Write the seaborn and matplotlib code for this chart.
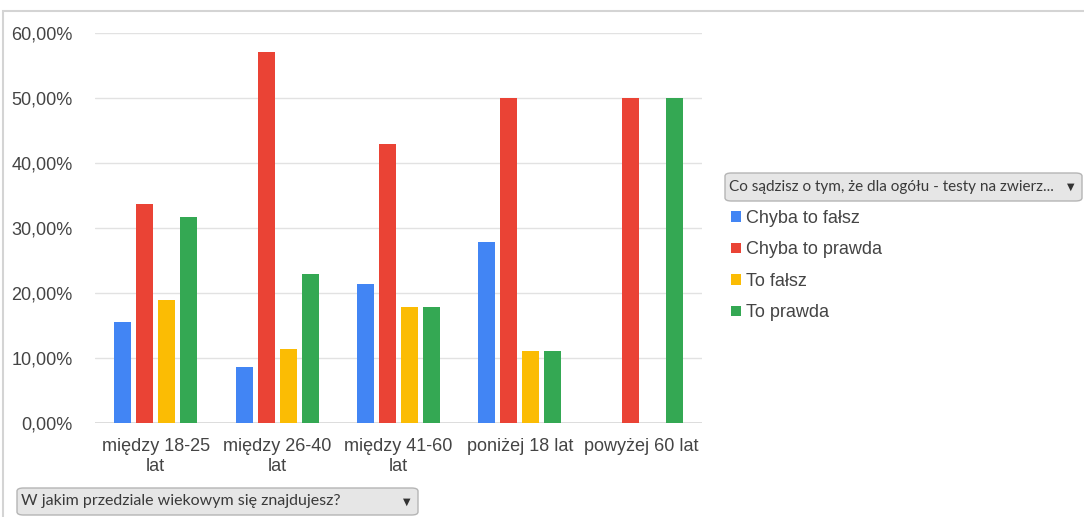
import seaborn as sns
import pandas as pd
import numpy as np
import matplotlib.pyplot as plt
from matplotlib.patches import FancyBboxPatch, Rectangle
from matplotlib.ticker import FuncFormatter

# przedzialy wiekowe i odpowiedzi (udzial procentowy)
grupy = ['między 18-25\nlat', 'między 26-40\nlat', 'między 41-60\nlat',
         'poniżej 18 lat', 'powyżej 60 lat']
odpowiedzi = ['Chyba to fałsz', 'Chyba to prawda', 'To fałsz', 'To prawda']
chyba_falsz = [0.156, 0.0857, 0.2143, 0.2778, 0.0]
chyba_prawda = [0.337, 0.5714, 0.4286, 0.50, 0.50]
to_falsz = [0.189, 0.1143, 0.1786, 0.1111, 0.0]
to_prawda = [0.317, 0.2286, 0.1786, 0.1111, 0.50]
kolory = ['#4285F4', '#EA4335', '#FBBC04', '#34A853']

df = pd.DataFrame({
    'grupa': grupy * 4,
    'odp': np.repeat(odpowiedzi, len(grupy)),
    'udzial': chyba_falsz + chyba_prawda + to_falsz + to_prawda,
})

sns.set_style('white')
plt.rcParams['font.family'] = ['Liberation Sans', 'DejaVu Sans']

fig = plt.figure(figsize=(10.84, 5.17), dpi=100)
ax = fig.add_axes([95 / 1084, 94 / 517, 607 / 1084, 390 / 517])

sns.barplot(data=df, x='grupa', y='udzial', hue='odp', hue_order=odpowiedzi,
            palette=kolory, saturation=1, width=0.725, gap=0.23, linewidth=0, ax=ax)

ax.set_ylim(0, 0.6)
ax.set_yticks(np.arange(0, 0.61, 0.1))
ax.yaxis.set_major_formatter(FuncFormatter(lambda v, p: f'{v * 100:.2f}%'.replace('.', ',')))
ax.set_xlim(-0.5, 4.5)
ax.grid(axis='y', color='#e2e2e2', linewidth=1)
ax.set_axisbelow(True)
for s in ax.spines.values():
    s.set_visible(False)
ax.axhline(0, color='#d6d6d6', linewidth=1.2, zorder=0)
ax.tick_params(axis='y', length=0, pad=16, labelsize=13, labelcolor='#444444')
ax.tick_params(axis='x', length=0, pad=11, labelsize=13, labelcolor='#444444')
ax.set_xlabel('')
ax.set_ylabel('')

# legenda
h, l = ax.get_legend_handles_labels()
ax.get_legend().remove()
fig.legend(h, l, loc='upper left', bbox_to_anchor=(731 / 1084, 1 - 210 / 517),
           frameon=False, fontsize=13, handlelength=0.55, handleheight=0.55,
           handletextpad=0.3, labelspacing=0.8, borderaxespad=0, borderpad=0,
           labelcolor='#444444')

# ramka wykresu
fig.patches.append(Rectangle((3 / 1084, -0.1), 1.2, 1 - 11 / 517 + 0.1,
                             transform=fig.transFigure, fill=False,
                             edgecolor='#d4d4d4', linewidth=1.5))


# przyciski filtrow
def przycisk(x0, y0, x1, y1, tekst, rozmiar):
    fig.patches.append(FancyBboxPatch(
        (x0 / 1084, 1 - y1 / 517), (x1 - x0) / 1084, (y1 - y0) / 517,
        boxstyle='round,pad=0,rounding_size=0.006', transform=fig.transFigure,
        facecolor='#e6e6e6', edgecolor='#b5b5b5', linewidth=1))
    fig.text((x0 + 4) / 1084, 1 - (y0 + y1) / 2 / 517, tekst, ha='left', va='center',
             fontsize=rozmiar, color='#3a3a3a', family=['Lato', 'DejaVu Sans'])
    fig.text((x1 - 11) / 1084, 1 - (y0 + y1) / 2 / 517, '▼', ha='center', va='center',
             fontsize=7, color='#333333', family=['DejaVu Sans'])


przycisk(725, 173, 1082, 201, 'Co sądzisz o tym, że dla ogółu - testy na zwierz...', 11)
przycisk(17, 488, 418, 515, 'W jakim przedziale wiekowym się znajdujesz?', 11.5)

fig.savefig('out.png', dpi=100)
